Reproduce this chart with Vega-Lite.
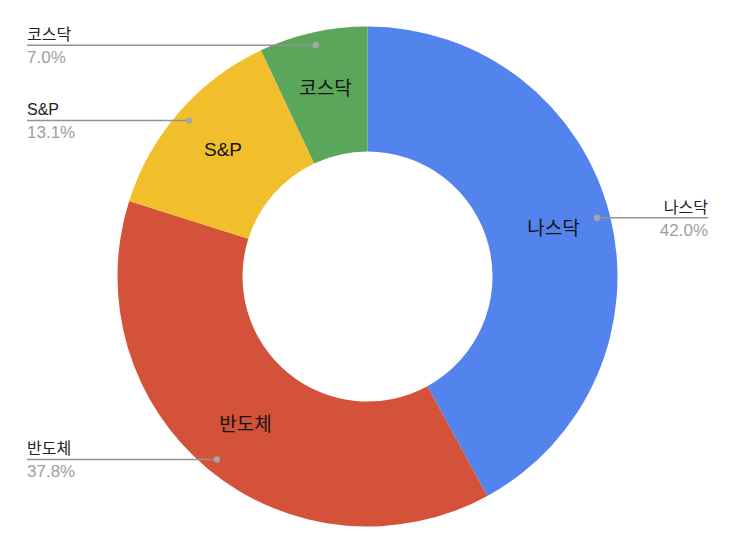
{
  "$schema": "https://vega.github.io/schema/vega-lite/v6.json",
  "width": 735,
  "height": 553,
  "autosize": {"type": "fit", "contains": "padding"},
  "padding": 0,
  "data": {
    "values": [
      {"name": "나스닥", "share": 0.420, "order": 1},
      {"name": "반도체", "share": 0.378, "order": 2},
      {"name": "S&P", "share": 0.131, "order": 3},
      {"name": "코스닥", "share": 0.070, "order": 4}
    ]
  },
  "transform": [
    {"window": [{"op": "sum", "field": "share", "as": "cum"}], "sort": [{"field": "order"}]},
    {"joinaggregate": [{"op": "sum", "field": "share", "as": "total"}]},
    {"calculate": "2 * PI * (datum.cum - datum.share / 2) / datum.total", "as": "mid"},
    {"calculate": "237 * sin(datum.mid)", "as": "px"},
    {"calculate": "237 * cos(datum.mid)", "as": "py"},
    {"calculate": "datum.px < 0 ? -340.5 : 340.5", "as": "lx"}
  ],
  "layer": [
    {
      "mark": {"type": "arc", "outerRadius": 250, "innerRadius": 125},
      "encoding": {
        "theta": {"field": "share", "type": "quantitative", "stack": true},
        "order": {"field": "order", "type": "quantitative"},
        "color": {
          "field": "name",
          "type": "nominal",
          "scale": {
            "domain": ["나스닥", "반도체", "S&P", "코스닥"],
            "range": ["#5383EC", "#D5523A", "#F0BF2B", "#5AA65B"]
          },
          "legend": null
        }
      }
    },
    {
      "mark": {"type": "text", "radius": 192, "fontSize": 19, "color": "#141414"},
      "encoding": {
        "theta": {"field": "share", "type": "quantitative", "stack": true},
        "order": {"field": "order", "type": "quantitative"},
        "text": {"field": "name"}
      }
    },
    {
      "mark": {"type": "rule", "color": "#939393", "strokeWidth": 1.5},
      "encoding": {
        "x": {"field": "px", "type": "quantitative", "scale": {"domain": [-367.5, 367.5], "nice": false, "zero": false}, "axis": null},
        "x2": {"field": "lx"},
        "y": {"field": "py", "type": "quantitative", "scale": {"domain": [-276.5, 276.5], "nice": false, "zero": false}, "axis": null}
      }
    },
    {
      "mark": {"type": "point", "filled": true, "size": 40, "color": "#a6a6a6", "opacity": 1},
      "encoding": {
        "x": {"field": "px", "type": "quantitative", "scale": {"domain": [-367.5, 367.5], "nice": false, "zero": false}, "axis": null},
        "y": {"field": "py", "type": "quantitative", "scale": {"domain": [-276.5, 276.5], "nice": false, "zero": false}, "axis": null}
      }
    },
    {
      "transform": [{"filter": "datum.px < 0"}],
      "layer": [
        {
          "mark": {"type": "text", "align": "left", "baseline": "alphabetic", "dy": -5, "fontSize": 16, "color": "#222222"},
          "encoding": {"text": {"field": "name"}}
        },
        {
          "mark": {"type": "text", "align": "left", "baseline": "alphabetic", "dy": 18, "fontSize": 17, "color": "#9e9e9e"},
          "encoding": {"text": {"field": "share", "type": "quantitative", "format": ".1%"}}
        }
      ],
      "encoding": {
        "x": {"field": "lx", "type": "quantitative", "scale": {"domain": [-367.5, 367.5], "nice": false, "zero": false}, "axis": null},
        "y": {"field": "py", "type": "quantitative", "scale": {"domain": [-276.5, 276.5], "nice": false, "zero": false}, "axis": null}
      }
    },
    {
      "transform": [{"filter": "datum.px >= 0"}],
      "layer": [
        {
          "mark": {"type": "text", "align": "right", "baseline": "alphabetic", "dy": -5, "fontSize": 16, "color": "#222222"},
          "encoding": {"text": {"field": "name"}}
        },
        {
          "mark": {"type": "text", "align": "right", "baseline": "alphabetic", "dy": 18, "fontSize": 17, "color": "#9e9e9e"},
          "encoding": {"text": {"field": "share", "type": "quantitative", "format": ".1%"}}
        }
      ],
      "encoding": {
        "x": {"field": "lx", "type": "quantitative", "scale": {"domain": [-367.5, 367.5], "nice": false, "zero": false}, "axis": null},
        "y": {"field": "py", "type": "quantitative", "scale": {"domain": [-276.5, 276.5], "nice": false, "zero": false}, "axis": null}
      }
    }
  ],
  "config": {
    "view": {"stroke": null},
    "font": "Liberation Sans, Noto Sans CJK KR"
  }
}
